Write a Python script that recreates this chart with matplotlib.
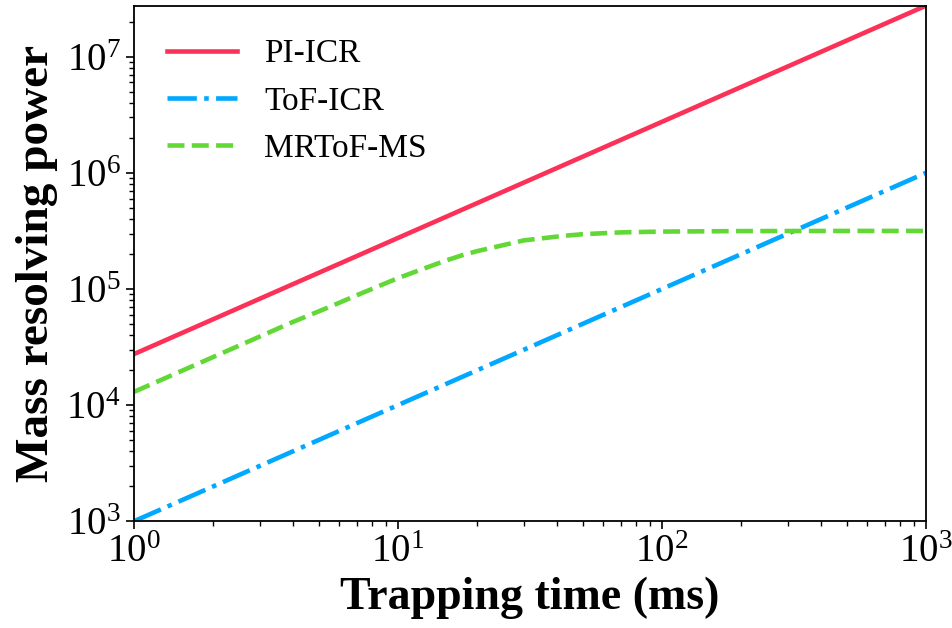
import numpy as np
import matplotlib.pyplot as plt

plt.rcParams['font.family'] = 'Liberation Serif'
plt.rcParams['mathtext.fontset'] = 'custom'
plt.rcParams['mathtext.rm'] = 'Liberation Serif'
plt.rcParams['mathtext.it'] = 'Liberation Serif:italic'
plt.rcParams['mathtext.bf'] = 'Liberation Serif:bold'

# trapping time (ms) and resolving power
t_line = [1, 1000]
pi_icr = [2.75e4, 2.75e7]
tof_icr = [1.0e3, 1.0e6]

t_mr = [1, 1.5, 2, 3, 4, 5.5, 7, 10, 15, 17.6, 20, 30, 42, 50, 70, 100, 200, 500, 1000]
mrtof = [1.3e4, 1.95e4, 2.6e4, 3.9e4, 5.2e4, 7.0e4, 8.85e4, 1.24e5, 1.74e5, 1.96e5,
         2.12e5, 2.62e5, 2.86e5, 2.96e5, 3.07e5, 3.12e5, 3.15e5, 3.16e5, 3.16e5]

fig = plt.figure(figsize=(9.53, 6.28), dpi=100)
ax = fig.add_axes([0.1406, 0.170, 0.8311, 0.821])

ax.plot(t_line, pi_icr, '-', color='#fc3158', lw=3.3, label='PI-ICR')
ax.plot(t_line, tof_icr, '-.', color='#00a8ff', lw=3.3, label='ToF-ICR')
ax.plot(t_mr, mrtof, '--', color='#62d836', lw=3.3, label='MRToF-MS')

ax.set_xscale('log')
ax.set_yscale('log')
ax.set_xlim(1, 1000)
ax.set_ylim(1e3, 2.75e7)
ax.tick_params(labelsize=28, width=1.2, length=6)
ax.tick_params(which='minor', width=1, length=3.5)
for s in ax.spines.values():
    s.set_linewidth(1.3)

ax.set_xlabel('Trapping time (ms)', fontsize=33, fontweight='bold', labelpad=4)
ax.set_ylabel('Mass resolving power', fontsize=34, fontweight='bold', labelpad=6)
ax.legend(loc='upper left', frameon=False, fontsize=24, handlelength=2.1,
          handletextpad=0.8, labelspacing=0.5, borderaxespad=0.6)

fig.savefig('out.png', dpi=100)
